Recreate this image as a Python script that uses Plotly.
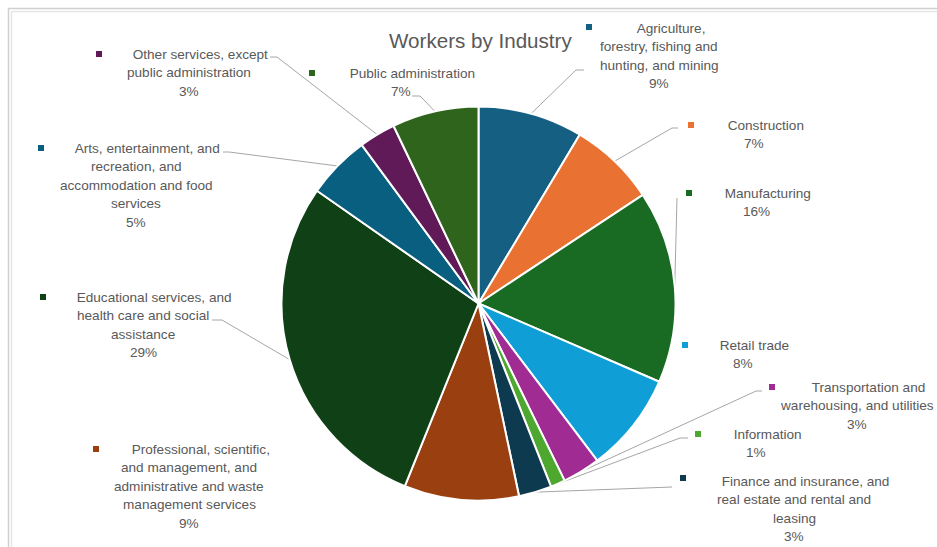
import math
import plotly.graph_objects as go

# ---------------- data ----------------
categories = [
    "Agriculture, forestry, fishing and hunting, and mining",
    "Construction",
    "Manufacturing",
    "Retail trade",
    "Transportation and warehousing, and utilities",
    "Information",
    "Finance and insurance, and real estate and rental and leasing",
    "Professional, scientific, and management, and administrative and waste management services",
    "Educational services, and health care and social assistance",
    "Arts, entertainment, and recreation, and accommodation and food services",
    "Other services, except public administration",
    "Public administration",
]
values = [8.6, 7.1, 15.8, 8.2, 3.1, 1.2, 2.7, 9.4, 28.6, 5.2, 3.0, 7.1]
label_lines = [
    ["Agriculture,", "forestry, fishing and", "hunting, and mining"],
    ["Construction"],
    ["Manufacturing"],
    ["Retail trade"],
    ["Transportation and", "warehousing, and utilities"],
    ["Information"],
    ["Finance and insurance, and", "real estate and rental and", "leasing"],
    ["Professional, scientific,", "and management, and", "administrative and waste", "management services"],
    ["Educational services, and", "health care and social", "assistance"],
    ["Arts, entertainment, and", "recreation, and", "accommodation and food", "services"],
    ["Other services, except", "public administration"],
    ["Public administration"],
]
title_text = "Workers by Industry"

# ---------------- styles / layout positions (page pixels) ----------------
colors = ["#156082", "#E97132", "#196B24", "#0F9ED5", "#A02B93", "#4EA72E",
          "#0D3A4E", "#9A4010", "#0F4016", "#095F80", "#601A58", "#2F641C"]
W, H = 937, 547
CX, CY, R = 478.5, 303.5, 197
LINE_H = 18.5
# (block centre x, first line centre y, marker x, marker y)
label_pos = [
    (659, 28, 589, 27),
    (754, 125, 691, 125),
    (756, 193, 689, 193),
    (743, 345, 685, 345),
    (857, 387, 772, 387),
    (756, 434, 698, 434),
    (794, 481, 683, 478),
    (189, 449, 96, 449),
    (143, 297, 43, 297),
    (136, 148, 41, 148),
    (189, 54, 99, 54),
    (401, 73, 312, 73),
]
# leader start point and optional elbow x (None = no leader)
leaders = [
    ((584, 70), 576),
    ((678, 128), 672),
    ((677, 198), None),
    None,
    ((762, 391), 756),
    ((688, 438), 680),
    ((672, 487), None),
    None,
    ((212, 320), 222),
    ((223, 152), 229),
    ((270, 57), 277),
    ((412, 96), 420),
]
TEXT = "#595959"
FONT = "Liberation Sans, Arial, sans-serif"
FS = 13.6

fig = go.Figure()

fig.add_trace(go.Pie(
    labels=categories, values=values, sort=False, direction="clockwise",
    rotation=0, marker=dict(colors=colors, line=dict(color="white", width=2)),
    textinfo="none", hoverinfo="label+percent", showlegend=False,
    domain=dict(x=[(CX - R) / W, (CX + R) / W],
                y=[1 - (CY + R) / H, 1 - (CY - R) / H]),
))

total = sum(values)
cum = 0.0
annotations = []
for i, v in enumerate(values):
    mid = (cum + v / 2) / total * 2 * math.pi
    cum += v
    ex = CX + R * math.sin(mid)
    ey = CY - R * math.cos(mid)
    ld = leaders[i]
    if ld is not None:
        (sx, sy), elbow = ld
        xs = [sx] + ([elbow] if elbow is not None else []) + [ex]
        ys = [sy] + ([sy] if elbow is not None else []) + [ey]
        fig.add_trace(go.Scatter(x=xs, y=ys, mode="lines",
                                 line=dict(color="#A6A6A6", width=1),
                                 hoverinfo="skip", showlegend=False))
    bx, by, mx, my = label_pos[i]
    fig.add_trace(go.Scatter(x=[mx], y=[my], mode="markers",
                             marker=dict(symbol="square", size=6, color=colors[i]),
                             hoverinfo="skip", showlegend=False))
    lines = list(label_lines[i])
    lines[0] = "\u00a0" * 6 + lines[0]
    lines.append(f"{v / total:.0%}")
    for k, ln in enumerate(lines):
        annotations.append(dict(
            x=bx, y=by + k * LINE_H, xref="x", yref="y",
            xanchor="center", yanchor="middle",
            text=ln, showarrow=False, align="center",
            font=dict(family=FONT, size=FS, color=TEXT), borderpad=0,
        ))

annotations.append(dict(
    x=480, y=40, xref="x", yref="y", xanchor="center", yanchor="middle",
    text=title_text, showarrow=False,
    font=dict(family=FONT, size=20.6, color=TEXT),
))

shapes = [
    dict(type="rect", xref="x", yref="y", x0=8.5, y0=8.5, x1=1200, y1=800,
         line=dict(color="#D0D0D0", width=1.5), layer="below"),
    dict(type="rect", xref="x", yref="y", x0=11.5, y0=11.5, x1=1200, y1=800,
         line=dict(color="#E6E6E6", width=1.5), layer="below"),
]

fig.update_layout(
    width=W, height=H, margin=dict(l=0, r=0, t=0, b=0),
    paper_bgcolor="white", plot_bgcolor="rgba(0,0,0,0)",
    xaxis=dict(range=[0, W], visible=False, fixedrange=True),
    yaxis=dict(range=[H, 0], visible=False, fixedrange=True),
    annotations=annotations, shapes=shapes,
)

fig.write_html(
    "out.html",
    config={"displayModeBar": False},
    post_script="document.body.style.margin='0';document.body.style.overflow='hidden';",
)
